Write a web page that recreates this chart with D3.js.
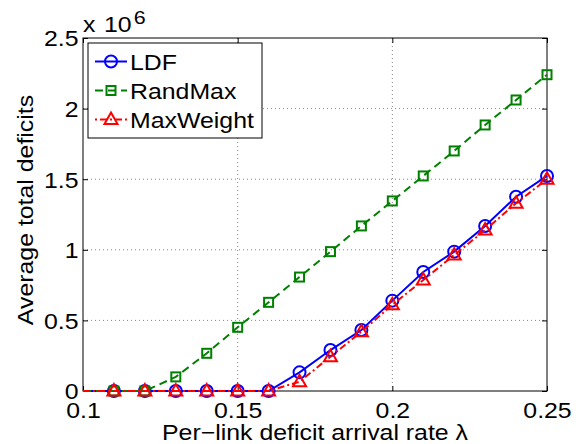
<!DOCTYPE html>
<html>
<head>
<meta charset="utf-8">
<script src="https://cdn.jsdelivr.net/npm/d3@7"></script>
<style>
    body { margin: 0; background: #fff; }
    svg { font-family: "Liberation Sans", Arial, sans-serif; }
    .tick text { font-size: 22px; fill: #000; }
    .grid line { stroke: #888; stroke-dasharray: 1,3; }
</style>
</head>
<body>
<svg id="chart" width="584" height="444"></svg>
<script>
const lambdas = [0.10, 0.11, 0.12, 0.13, 0.14, 0.15, 0.16, 0.17, 0.18, 0.19, 0.20, 0.21, 0.22, 0.23, 0.24, 0.25];
const ldf = [0, 0, 0, 0, 0, 0, 0, 0.132, 0.29, 0.432, 0.64, 0.843, 0.987, 1.169, 1.376, 1.523];
const randMax = [0, 0, 0, 0.10, 0.267, 0.451, 0.628, 0.807, 0.987, 1.169, 1.346, 1.523, 1.70, 1.884, 2.061, 2.24];
const maxWeight = [0, 0, 0, 0, 0, 0, 0, 0.066, 0.243, 0.42, 0.61, 0.786, 0.963, 1.14, 1.33, 1.5];

const xTicks = [0.1, 0.15, 0.2, 0.25];
const yTicks = [0, 0.5, 1, 1.5, 2, 2.5];

const series = [
    { name: "LDF", values: ldf, color: "#0000ff", dash: null, legendDash: null, marker: "circle" },
    { name: "RandMax", values: randMax, color: "#008000", dash: "8,5", legendDash: "8,5", marker: "square" },
    { name: "MaxWeight", values: maxWeight, color: "#ff0000", dash: "7,3,2,3", legendDash: "2,3,7,3", marker: "triangle" }
];

// the reference font is wider than Arial, stretch text horizontally
const stretch = "scale(1.13,1)";

const svg = d3.select("#chart");
const margin = { top: 38, right: 37, bottom: 53, left: 83 };
const width = 584, height = 444;
const innerWidth = width - margin.left - margin.right;
const innerHeight = height - margin.top - margin.bottom;

const xScale = d3.scaleLinear().domain([0.1, 0.25]).range([0, innerWidth]);
const yScale = d3.scaleLinear().domain([0, 2.5]).range([innerHeight, 0]);

const g = svg.append("g")
    .attr("transform", `translate(${margin.left},${margin.top})`);

// grid
g.append("g").attr("class", "grid")
    .selectAll("line").data(xTicks.slice(1, -1)).enter().append("line")
    .attr("x1", d => xScale(d)).attr("x2", d => xScale(d))
    .attr("y1", 0).attr("y2", innerHeight);
g.append("g").attr("class", "grid")
    .selectAll("line").data(yTicks.slice(1, -1)).enter().append("line")
    .attr("y1", d => yScale(d)).attr("y2", d => yScale(d))
    .attr("x1", 0).attr("x2", innerWidth);

// axes
const xAxisG = g.append("g")
    .attr("transform", `translate(0,${innerHeight})`)
    .call(d3.axisBottom(xScale).tickValues(xTicks).tickSize(-5)
        .tickFormat(d => d3.format("")(+d.toFixed(2))));
const yAxisG = g.append("g")
    .call(d3.axisLeft(yScale).tickValues(yTicks).tickSize(-5).tickPadding(4)
        .tickFormat(d => d3.format("")(d)));
g.append("g")
    .call(d3.axisTop(xScale).tickValues(xTicks).tickSize(-5).tickFormat(""));
g.append("g")
    .attr("transform", `translate(${innerWidth},0)`)
    .call(d3.axisRight(yScale).tickValues(yTicks).tickSize(-5).tickFormat(""));
g.selectAll(".domain").remove();
g.selectAll(".tick line").attr("stroke", "#000");
xAxisG.selectAll(".tick text").attr("y", 27).attr("dy", 0).attr("transform", stretch);
yAxisG.selectAll(".tick text").attr("dy", "0.36em").attr("transform", stretch);

g.append("rect")
    .attr("width", innerWidth).attr("height", innerHeight)
    .attr("fill", "none").attr("stroke", "#000").attr("stroke-width", 1);

// lines
const line = d3.line()
    .x((d, i) => xScale(lambdas[i]))
    .y(d => yScale(d));

const drawMarker = (sel, type, color) => {
    if (type === "circle") {
        sel.append("circle").attr("r", 6);
    } else if (type === "square") {
        sel.append("rect").attr("x", -4.5).attr("y", -4.5).attr("width", 9).attr("height", 9);
    } else {
        sel.append("path").attr("d", "M0,-7L6.5,4.5L-6.5,4.5Z");
    }
    sel.selectAll("*").attr("fill", "none").attr("stroke", color).attr("stroke-width", 2);
};

series.forEach(s => {
    g.append("path")
        .datum(s.values)
        .attr("d", line)
        .attr("fill", "none")
        .attr("stroke", s.color)
        .attr("stroke-width", 2)
        .attr("stroke-dasharray", s.dash);

    g.selectAll(null)
        .data(s.values.map((v, i) => ({ x: lambdas[i], y: v })).filter(d => d.x > 0.1))
        .enter()
        .append("g")
        .attr("transform", d => `translate(${xScale(d.x)},${yScale(d.y)})`)
        .each(function () { drawMarker(d3.select(this), s.marker, s.color); });
});

// legend
const legend = svg.append("g").attr("transform", "translate(88,43)");
legend.append("rect")
    .attr("width", 174).attr("height", 95)
    .attr("fill", "#fff").attr("stroke", "#000").attr("stroke-width", 1);
series.forEach((s, i) => {
    const row = legend.append("g").attr("transform", `translate(0,${18.5 + i * 29})`);
    row.append("line")
        .attr("x1", 7).attr("x2", 39)
        .attr("stroke", s.color).attr("stroke-width", 2)
        .attr("stroke-dasharray", s.legendDash);
    const m = row.append("g").attr("transform", "translate(23,0)");
    drawMarker(m, s.marker, s.color);
    row.append("text")
        .attr("transform", `translate(42,8) ${stretch}`)
        .attr("font-size", 22)
        .text(s.name);
});

// labels
svg.append("text")
    .attr("transform", `translate(${margin.left + innerWidth / 2},440) ${stretch}`)
    .attr("text-anchor", "middle").attr("font-size", 22)
    .text("Per\u2212link deficit arrival rate \u03bb");

svg.append("text")
    .attr("transform", `translate(33,210) rotate(-90) ${stretch}`)
    .attr("text-anchor", "middle").attr("font-size", 22)
    .text("Average total deficits");

const expo = svg.append("g").attr("transform", `translate(83,32) ${stretch}`);
expo.append("text").attr("font-size", 22).text("x");
expo.append("text").attr("x", 18.5).attr("font-size", 22).text("10");
expo.append("text").attr("x", 45).attr("y", -8).attr("font-size", 19).text("6");
</script>
</body>
</html>
